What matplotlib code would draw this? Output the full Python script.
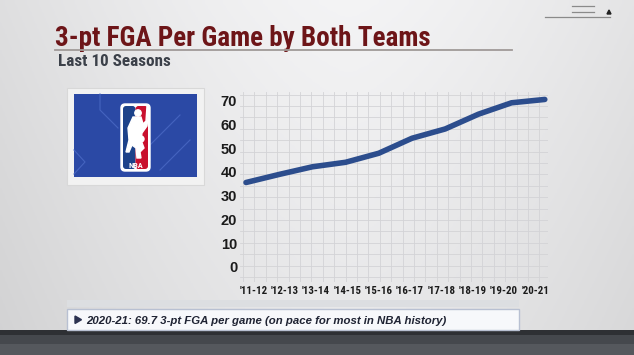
import numpy as np
import matplotlib
matplotlib.use("Agg")
import matplotlib.pyplot as plt
from matplotlib.patches import Rectangle, FancyBboxPatch, Polygon, Circle
from matplotlib import font_manager

seasons = ["'11-12", "'12-13", "'13-14", "'14-15", "'15-16",
           "'16-17", "'17-18", "'18-19", "'19-20", "'20-21"]
fga = [35.5, 38.9, 42.1, 44.0, 47.8, 54.1, 58.0, 64.2, 69.0, 70.4]
yticks = [0, 10, 20, 30, 40, 50, 60, 70]

title = "3-pt FGA Per Game by Both Teams"
subtitle = "Last 10 Seasons"
footnote = "2020-21: 69.7 3-pt FGA per game (on pace for most in NBA history)"

names = {f.name for f in font_manager.fontManager.ttflist}
cond_choice = [n for n in ['Roboto Condensed', 'PT Sans Narrow', 'Archivo Narrow',
                           'IBM Plex Sans Condensed'] if n in names]
NARROW = [cond_choice[0] if cond_choice else 'Liberation Sans', 'DejaVu Sans']
SANS = ['Liberation Sans', 'DejaVu Sans']

W, H = 634, 355
fig = plt.figure(figsize=(W / 100, H / 100), dpi=100)

bg = fig.add_axes([0, 0, 1, 1])
bg.set_xlim(0, W)
bg.set_ylim(H, 0)
bg.axis('off')
grad = np.linspace(0, 1, 256)
xx = np.abs(grad - 0.55)
img = 0.955 - 0.20 * xx[None, :] ** 1.5
img = np.repeat(img, 64, axis=0)
img = img - 0.05 * np.linspace(0, 1, 64)[:, None]
bg.imshow(np.dstack([img, img, img * 1.005]).clip(0, 1), extent=[0, W, H, 0], aspect='auto', zorder=0)

# title and subtitle
bg.text(55, 45.5, title, fontsize=19.5, fontweight='bold', color='#6d1518',
        family=NARROW, ha='left', va='baseline', zorder=3)
bg.plot([55, 512], [50, 50], color='#a09a98', lw=1.3, zorder=3)
bg.text(58, 66, subtitle, fontsize=12.3, fontweight='bold', color='#3b4049',
        family=NARROW, ha='left', va='baseline', zorder=3)

# top-right icon
bg.plot([572, 594], [6, 6], color='#8a8a8a', lw=0.9)
bg.plot([572, 594], [12, 12], color='#8a8a8a', lw=0.9)
bg.plot([545, 610], [17, 17], color='#8a8a8a', lw=0.9)
bg.add_patch(Polygon([[607, 14], [611, 14], [609, 10]], closed=True, color='#222222'))

# logo panel
bg.add_patch(Rectangle((67, 88), 137, 97, facecolor='#f2f2f2', edgecolor='#d8d8d8', lw=0.8, zorder=2))
bg.add_patch(Rectangle((74, 94), 123, 83, facecolor='#2b49a5', edgecolor='none', zorder=3))
for seg in [([100, 100, 118], [94, 110, 128]), ([180, 150, 150], [115, 145, 160]),
            ([74, 85, 74], [150, 162, 174]), ([190, 160], [140, 170])]:
    bg.plot(seg[0], seg[1], color='#4564bf', lw=0.8, zorder=3)
bg.add_patch(FancyBboxPatch((121, 104), 29, 67, boxstyle='round,pad=0,rounding_size=4',
                            facecolor='white', edgecolor='white', lw=1, zorder=4))
bg.add_patch(FancyBboxPatch((123, 106), 12.5, 63, boxstyle='round,pad=0,rounding_size=3',
                            facecolor='#1d428a', edgecolor='none', zorder=5))
bg.add_patch(FancyBboxPatch((135.5, 106), 12.5, 63, boxstyle='round,pad=0,rounding_size=3',
                            facecolor='#c9102e', edgecolor='none', zorder=5))
bg.add_patch(Circle((138, 113), 3.2, color='white', zorder=6))
bg.add_patch(Polygon([[133, 117], [141, 117], [143, 124], [146, 121], [147, 106], [149, 108],
                      [147, 126], [142, 133], [141, 140], [144, 148], [140, 152], [141, 158],
                      [137, 158], [136, 148], [132, 145], [129, 152], [126, 152], [129, 140],
                      [128, 128]], closed=True, color='white', zorder=6))
bg.add_patch(Circle((141, 139), 3, color='white', zorder=6))
bg.text(135.5, 166, 'NBA', fontsize=6, fontweight='bold', color='white', family=NARROW,
        ha='center', va='center', zorder=7)

# bottom bars
bg.add_patch(Rectangle((67, 300), 452, 7, facecolor='#dcdee1', edgecolor='none', zorder=2))
bg.add_patch(Rectangle((0, 330), W, 25, facecolor='#45484d', edgecolor='none', zorder=2))
bg.add_patch(Rectangle((0, 330), W, 5, facecolor='#2e3034', edgecolor='none', zorder=2))
bg.add_patch(Rectangle((0, 344), W, 11, facecolor='#55585d', edgecolor='none', zorder=2))
bg.add_patch(Rectangle((67, 309), 452, 21, facecolor='#f7f8fb', edgecolor='#b8c0d2', lw=1, zorder=3))
bg.add_patch(Polygon([[75, 316], [75, 323.5], [81.5, 319.7]], closed=True, color='#2c3250', zorder=4))
bg.text(86, 323.5, footnote, fontsize=8.2, fontweight='bold', style='italic', color='#1f2333',
        family=SANS, ha='left', va='baseline', zorder=4)

# chart axes (pixel placement)
px_l, px_r, px_t, px_b = 240, 548, 92, 282
ax = fig.add_axes([px_l / W, (H - px_b) / H, (px_r - px_l) / W, (px_b - px_t) / H])
ax.patch.set_alpha(0)
x0_px, dx_px = 246, 33.2
y0_px, dy_px = 267, 2.38
ax.set_xlim((px_l - x0_px) / dx_px, (px_r - x0_px) / dx_px)
ax.set_ylim((y0_px - px_b) / dy_px, (y0_px - px_t) / dy_px)
for s in ax.spines.values():
    s.set_visible(False)

cell = 11.4
for p in np.arange(px_l + 3, px_r, cell):
    ax.axvline((p - x0_px) / dx_px, color='#d3d3d6', lw=0.6, zorder=1)
for p in np.arange(px_b - 5, px_t, -cell):
    ax.axhline((y0_px - p) / dy_px, color='#d3d3d6', lw=0.6, zorder=1)

xs = np.arange(len(seasons))
ax.plot(xs, fga, color='#2c4d8d', lw=4.0, solid_capstyle='round', solid_joinstyle='round', zorder=3)

ax.set_yticks(yticks)
ax.set_yticklabels([str(v) for v in yticks], fontsize=10.5, fontweight='bold', color='#1b1b1b', family=SANS)
label_pos = [(253.5 + 31.3 * i - x0_px) / dx_px for i in range(len(seasons))]
ax.set_xticks(label_pos)
ax.set_xticklabels(seasons, fontsize=7.8, fontweight='bold', color='#1b1b1b', family=NARROW)
ax.tick_params(axis='both', length=0)
ax.tick_params(axis='y', pad=2)
ax.tick_params(axis='x', pad=3)

fig.savefig('out.png', dpi=100)
